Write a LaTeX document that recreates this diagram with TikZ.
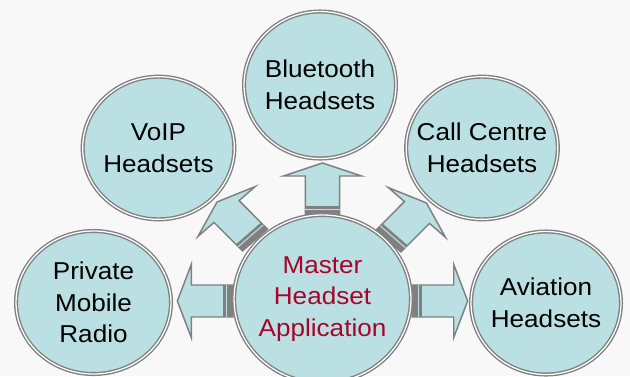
\documentclass[tikz,border=0pt]{standalone}
\usepackage{fontspec}
\setmainfont{Liberation Sans}
\usetikzlibrary{shapes.geometric,calc}
\definecolor{bgc}{RGB}{248,248,248}
\definecolor{fillc}{RGB}{186,224,228}
\definecolor{linec}{RGB}{128,128,128}
\definecolor{redc}{RGB}{168,4,42}
\tikzset{
  bubble/.style={ellipse, draw=linec, double=white, line width=1.05pt,
    double distance=0.95pt, fill=fillc, inner sep=-20pt, xscale=1.07,
    align=center, font=\fontsize{18.3}{23.6}\selectfont, text=black},
  arrowbody/.style={fill=fillc, draw=linec, line width=1.1pt, line join=miter},
  stripegray/.style={fill=linec},
  stripelight/.style={draw=fillc, line width=0.8pt},
  sarrow/.pic={
    \path[arrowbody] (0,-16) -- (39,-16) -- (39,-36.5) -- (52,0) -- (39,36.5)
      -- (39,16) -- (0,16) -- cycle;
    \fill[stripegray] (0,-16) rectangle (9,16);
    \draw[stripelight] (5.8,-16) -- (5.8,16);
  }
}
\begin{document}
\begin{tikzpicture}[x=0.75pt,y=-0.75pt]
\useasboundingbox (0,0) rectangle (630,376);
\fill[bgc] (0,0) rectangle (630,376);

\node[bubble, minimum width=106.5pt, minimum height=110.25pt] (blue) at (320,85) {Bluetooth\\Headsets};
\node[bubble, minimum width=106.3pt, minimum height=107pt] (voip) at (158.5,148) {VoIP\\Headsets};
\node[bubble, minimum width=106.3pt, minimum height=107pt] (call) at (482,148) {Call Centre\\Headsets};
\node[bubble, minimum width=108.6pt, minimum height=107.25pt] (pmr) at (93.5,302.5) {Private\\Mobile\\Radio};
\node[bubble, minimum width=105.1pt, minimum height=107.25pt] (avia) at (546,303) {Aviation\\Headsets};

\pic[xscale=1.07, rotate=90] at (322.5,215) {sarrow};
\pic[xscale=1.07, rotate=180] at (233,301) {sarrow};
\pic[xscale=1.07, rotate=0] at (412,301) {sarrow};
\pic[xscale=1.07, rotate=133] at (255,240) {sarrow};
\pic[xscale=1.07, rotate=47] at (388.5,241) {sarrow};

\node[bubble, minimum width=124pt, minimum height=126pt, text=redc] (master) at (322.5,299) {Master\\Headset\\Application};
\end{tikzpicture}
\end{document}
